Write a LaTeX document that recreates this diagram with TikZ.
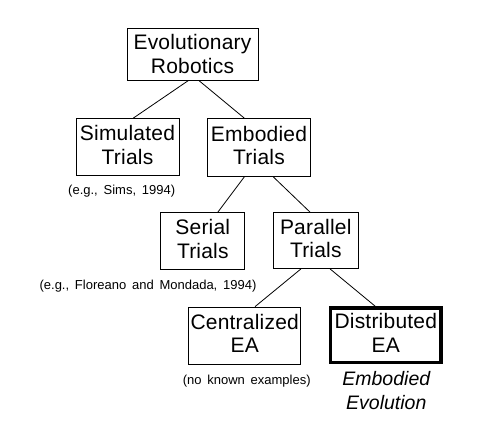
\documentclass[tikz,border=0pt]{standalone}
\usepackage{fontspec}
\setmainfont{Liberation Sans}
\newfontfamily\boxfont[LetterSpace=1]{Liberation Sans}
\newfontfamily\citefont[WordSpace=1.6]{Liberation Sans}
\usetikzlibrary{calc}
\tikzset{
  box/.style={draw, rectangle, inner sep=0pt, line width=0.8pt, align=center,
    text height=39pt, text depth=5pt,
    font=\boxfont\fontsize{21}{23.5}\selectfont},
  thickbox/.style={box, line width=3.5pt},
  cite/.style={inner sep=0pt, font=\citefont\fontsize{13}{15}\selectfont},
  emph/.style={inner sep=0pt, align=center, font=\fontsize{19.5}{24.4}\selectfont\itshape},
  conn/.style={line width=0.8pt}
}
\begin{document}
\begin{tikzpicture}[x=1pt,y=-1pt]
\useasboundingbox (0,0) rectangle (493,423);
\node[box, minimum width=131pt, minimum height=52pt, text depth=0.5pt] (evo) at (192.5,54.2) {Evolutionary\\Robotics};
\node[box, minimum width=103pt, minimum height=57pt] (sim) at (127.5,147) {Simulated\\Trials};
\node[box, minimum width=103pt, minimum height=58pt] (emb) at (259,147.5) {Embodied\\Trials};
\node[box, minimum width=84pt, minimum height=57pt] (ser) at (202.8,241.2) {Serial\\Trials};
\node[box, minimum width=84.5pt, minimum height=56pt] (par) at (315.8,240.5) {Parallel\\Trials};
\node[box, minimum width=112pt, minimum height=57pt] (cen) at (244.7,335.5) {Centralized\\EA};
\node[thickbox, minimum width=110.2pt, minimum height=54.8pt] (dis) at (385.8,335.2) {Distributed\\EA};

\node[cite] (c1) at (121.7,190.7) {(e.g., Sims, 1994)};
\node[cite] (c2) at (148,285.7) {(e.g., Floreano and Mondada, 1994)};
\node[cite] (c3) at (246.7,381) {(no known examples)};
\node[emph] (ee) at (386.3,390.5) {Embodied\\Evolution};

\draw[conn] ($(evo.south west)!0.468!(evo.south east)$) -- ($(sim.north west)!0.556!(sim.north east)$);
\draw[conn] ($(evo.south west)!0.549!(evo.south east)$) -- ($(emb.north west)!0.358!(emb.north east)$);
\draw[conn] ($(emb.south west)!0.358!(emb.south east)$) -- ($(ser.north west)!0.676!(ser.north east)$);
\draw[conn] ($(emb.south west)!0.638!(emb.south east)$) -- ($(par.north west)!0.432!(par.north east)$);
\draw[conn] ($(par.south west)!0.326!(par.south east)$) -- ($(cen.north west)!0.592!(cen.north east)$);
\draw[conn] ($(par.south west)!0.667!(par.south east)$) -- ($(dis.north west)!0.405!(dis.north east)$);
\end{tikzpicture}
\end{document}
